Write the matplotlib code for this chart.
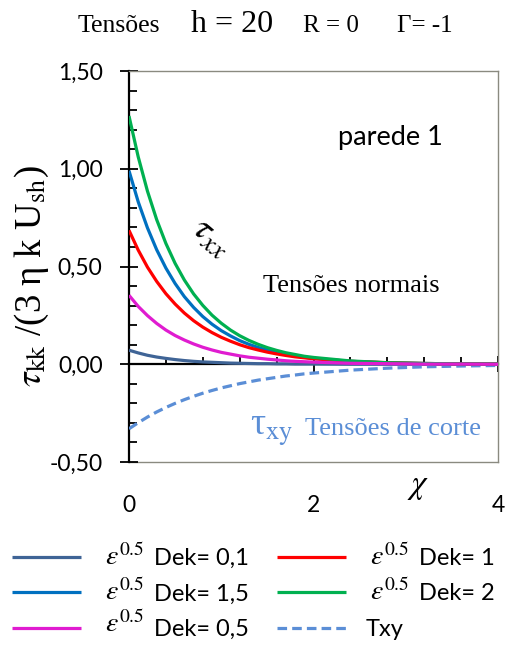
import matplotlib.pyplot as plt
import numpy as np
from matplotlib.ticker import MultipleLocator

plt.rcParams['mathtext.fontset'] = 'stix'
plt.rcParams['font.family'] = ['Lato', 'DejaVu Sans']

# ---- data ----
chi = [0, 0.1, 0.2, 0.3, 0.4, 0.5, 0.6, 0.7, 0.8, 0.9, 1.0, 1.1, 1.2, 1.3, 1.4,
       1.5, 1.6, 1.7, 1.8, 1.9, 2.0, 2.4, 2.8, 3.2, 3.6, 4.0]
dek_01 = [0.072, 0.058, 0.046, 0.037, 0.030, 0.024, 0.019, 0.015, 0.012, 0.010, 0.008, 0.006, 0.005,
          0.004, 0.003, 0.003, 0.002, 0.002, 0.001, 0.001, 0.001, 0.0, 0.0, 0.0, 0.0, 0.0]
dek_15 = [0.990, 0.831, 0.698, 0.586, 0.492, 0.413, 0.346, 0.291, 0.244, 0.205, 0.172, 0.145, 0.121,
          0.102, 0.086, 0.072, 0.060, 0.051, 0.043, 0.036, 0.030, 0.015, 0.007, 0.004, 0.002, 0.001]
dek_05 = [0.353, 0.296, 0.249, 0.209, 0.175, 0.147, 0.124, 0.104, 0.087, 0.073, 0.061, 0.052, 0.043,
          0.036, 0.031, 0.026, 0.022, 0.018, 0.015, 0.013, 0.011, 0.005, 0.003, 0.001, 0.001, 0.0]
dek_1 = [0.685, 0.584, 0.497, 0.424, 0.361, 0.308, 0.262, 0.223, 0.190, 0.162, 0.138, 0.118, 0.100,
         0.085, 0.073, 0.062, 0.053, 0.045, 0.038, 0.033, 0.028, 0.015, 0.008, 0.004, 0.002, 0.001]
dek_2 = [1.270, 1.061, 0.886, 0.740, 0.618, 0.516, 0.431, 0.360, 0.301, 0.251, 0.210, 0.175, 0.146,
         0.122, 0.102, 0.085, 0.071, 0.059, 0.050, 0.041, 0.035, 0.017, 0.008, 0.004, 0.002, 0.001]
txy = [-0.330, -0.299, -0.270, -0.244, -0.221, -0.200, -0.181, -0.164, -0.148, -0.134, -0.121, -0.110,
       -0.099, -0.090, -0.081, -0.074, -0.067, -0.060, -0.055, -0.049, -0.045, -0.030, -0.020, -0.013,
       -0.009, -0.006]

yticks = [-0.5, 0.0, 0.5, 1.0, 1.5]
ytick_labels = ['-0,50', '0,00', '0,50', '1,00', '1,50']
xticks = [0, 2, 4]
xtick_labels = ['0', '2', '4']

eps = r'$\varepsilon^{0.5}$'
# values, colour, line style, legend text, eps prefix
series = [
    (dek_01, '#3F6496', '-', 'Dek= 0,1', True),
    (dek_15, '#0070C0', '-', 'Dek= 1,5', True),
    (dek_05, '#E01CD0', '-', 'Dek= 0,5', True),
    (dek_1, '#FF0000', '-', 'Dek= 1', True),
    (dek_2, '#00B050', '-', 'Dek= 2', True),
    (txy, '#5B8ED6', (0, (3, 1.6)), 'Txy', False),
]
zorders = [3, 4, 7, 5, 6, 3]
eps_raise = [0, 0, 4, 0, 0, 0]   # px, the reference lifts one of them

fig = plt.figure(figsize=(5.07, 6.49), dpi=100)
ax = fig.add_axes([0.2544, 0.2881, 0.728, 0.6025])

handles = []
for (vals, col, ls, lab, _), z in zip(series, zorders):
    h, = ax.plot(chi, vals, color=col, lw=2.3, linestyle=ls, label=lab, zorder=z,
                 solid_capstyle='butt')
    handles.append(h)

ax.set_xlim(0, 4)
ax.set_ylim(-0.5, 1.5)

# frame
for s in ['top', 'right']:
    ax.spines[s].set_color('#8a8a80')
    ax.spines[s].set_linewidth(1.0)
ax.spines['left'].set_color('black')
ax.spines['left'].set_linewidth(1.6)
ax.spines['bottom'].set_position(('data', 0))
ax.spines['bottom'].set_color('black')
ax.spines['bottom'].set_linewidth(1.6)
ax.spines['bottom'].set_zorder(2)

# y axis ticks
ax.set_yticks(yticks)
ax.set_yticklabels(ytick_labels, fontsize=16.5)
ax.yaxis.set_minor_locator(MultipleLocator(0.1))
ax.tick_params(axis='y', which='major', direction='inout', length=13, width=1.3, pad=12.5)
ax.tick_params(axis='y', which='minor', direction='in', length=6, width=1.3)

# x axis ticks on the zero line
ax.set_xticks(xticks)
ax.xaxis.set_minor_locator(MultipleLocator(0.4))
ax.tick_params(axis='x', which='major', direction='inout', length=11, width=1.3, labelbottom=False)
ax.tick_params(axis='x', which='minor', direction='in', length=5, width=1.3)

# tick labels at the bottom of the frame
secax = ax.secondary_xaxis('bottom')
secax.set_xticks(xticks)
secax.set_xticklabels(xtick_labels, fontsize=16.5)
secax.tick_params(length=0, pad=24)
secax.spines['bottom'].set_color('#8a8a80')
secax.spines['bottom'].set_linewidth(1.0)

# titles / labels
fy = 1 - 31.7 / 649
fig.text(78 / 507, fy, 'Tensões', family='Liberation Serif', fontsize=18.5, va='baseline')
fig.text(191 / 507, fy, 'h = 20', family='Liberation Serif', fontsize=23, va='baseline')
fig.text(303 / 507, fy, 'R = 0', family='Liberation Serif', fontsize=18, va='baseline')
fig.text(397 / 507, fy, 'Γ= -1', family='Liberation Serif', fontsize=18, va='baseline')

fig.text(32 / 507, 1 - 276 / 649,
         r'$\tau_{\rm kk}$ /(3 η k U$_{\rm sh}$)', family='Liberation Serif',
         rotation=90, fontsize=26.5, ha='center', va='center')
fig.text(418 / 507, 1 - 487 / 649, r'$\chi$', fontsize=24, ha='center', va='center')

ax.text(390 / 507, 1 - 137 / 649, 'parede 1', transform=fig.transFigure,
        fontsize=19.5, ha='center', va='center')
ax.text(212 / 507, 1 - 236 / 649, r'$\tau_{xx}$', transform=fig.transFigure,
        fontsize=27, rotation=-40, ha='center', va='center')
ax.text(351 / 507, 1 - 286 / 649, 'Tensões normais', transform=fig.transFigure,
        family='Liberation Serif', fontsize=19, ha='center', va='center')
ax.text(250 / 507, 1 - 435 / 649, r'τ$_{\rm xy}$', transform=fig.transFigure,
        family='Liberation Serif', fontsize=27, color='#5B8ED6', ha='left', va='baseline')
ax.text(305 / 507, 1 - 435 / 649, 'Tensões de corte', transform=fig.transFigure,
        family='Liberation Serif', fontsize=19, color='#5B8ED6', ha='left', va='baseline')

leg = fig.legend(handles=handles, loc='center', bbox_to_anchor=(253.5 / 507, 1 - 594 / 649),
                 ncol=2, frameon=False, fontsize=17, handlelength=2.9, handletextpad=3.1,
                 columnspacing=1.2, labelspacing=0.62, borderpad=0)

# epsilon^0.5 prefix drawn in front of the legend texts
fig.canvas.draw()
inv = fig.transFigure.inverted()
for t, (_, _, _, _, has_eps), dy in zip(leg.get_texts(), series, eps_raise):
    if not has_eps:
        # Txy starts where the epsilon of its column starts
        x0, y0 = t.get_position()
        t.set_position((x0 - 53, y0))
        continue
    px, py = t.get_transform().transform(t.get_position())
    fx, fyy = inv.transform((px - 10, py + dy))
    fig.text(fx, fyy, eps, fontsize=20, ha='right', va='baseline')

fig.savefig('out.png', dpi=100)
